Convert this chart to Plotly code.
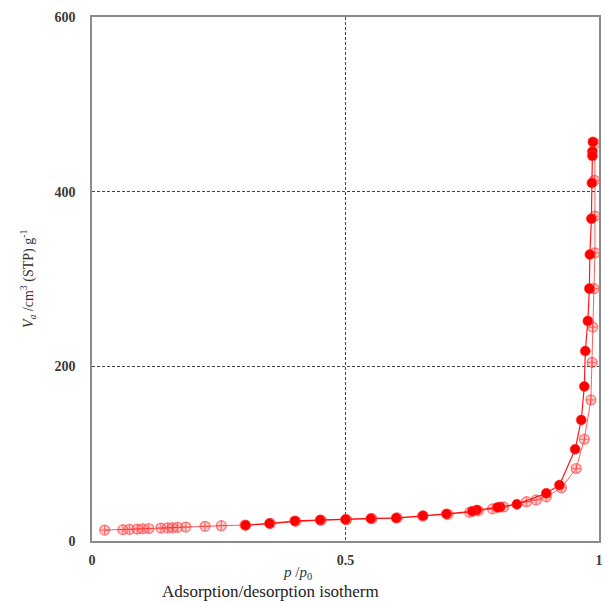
import plotly.graph_objects as go

# Adsorption branch (relative pressure p/p0, adsorbed volume cm3(STP)/g)
ads_p = [0.025, 0.061, 0.074, 0.089, 0.100, 0.112, 0.136, 0.149, 0.159, 0.169,
         0.185, 0.223, 0.255, 0.302, 0.352, 0.402, 0.452, 0.502, 0.552, 0.602,
         0.652, 0.702, 0.745, 0.762, 0.790, 0.812, 0.857, 0.876, 0.896, 0.926,
         0.955, 0.971, 0.984, 0.9865, 0.9877, 0.990, 0.992, 0.992, 0.991, 0.992]
ads_v = [12.5, 13.0, 13.3, 13.6, 14.0, 14.3, 14.8, 15.0, 15.3, 15.6,
         16.0, 16.8, 17.5, 18.3, 20.2, 22.5, 23.8, 24.6, 25.6, 26.6,
         28.6, 30.6, 32.8, 34.6, 36.8, 39.0, 45.0, 47.0, 50.5, 61.0,
         83.0, 116.5, 161.5, 204.5, 245.0, 289.0, 330.0, 372.0, 413.0, 455.0]

# Desorption branch
des_p = [0.988, 0.987, 0.987, 0.986, 0.985, 0.982, 0.981, 0.978, 0.973, 0.971,
         0.965, 0.953, 0.922, 0.896, 0.838, 0.805, 0.800, 0.759, 0.750, 0.699,
         0.653, 0.600, 0.550, 0.500, 0.450, 0.400, 0.350, 0.303]
des_v = [457.0, 446.0, 441.0, 410.0, 369.0, 328.0, 289.0, 252.0, 217.5, 177.0,
         138.6, 105.0, 64.0, 54.6, 42.0, 39.0, 38.5, 35.5, 34.0, 31.0,
         29.0, 26.3, 25.8, 24.6, 24.0, 23.0, 20.0, 18.0]

x_ticks = [0, 0.5, 1]
x_tick_text = ["0", "0.5", "1"]
y_ticks = [0, 200, 400, 600]
y_tick_text = ["0", "200", "400", "600"]

serif = "Liberation Serif, Times New Roman, serif"

fig = go.Figure()

fig.add_trace(go.Scatter(
    x=ads_p, y=ads_v, mode="lines+markers", name="adsorption",
    line=dict(color="rgba(255,40,40,0.75)", width=1),
    marker=dict(symbol="circle-cross", size=10,
                color="rgba(255,120,120,0.35)",
                line=dict(color="rgba(255,40,40,0.6)", width=1.2)),
))

fig.add_trace(go.Scatter(
    x=des_p, y=des_v, mode="lines+markers", name="desorption",
    line=dict(color="rgba(255,0,0,0.9)", width=1.2),
    marker=dict(symbol="circle", size=10, color="rgb(255,0,0)",
                line=dict(color="rgba(255,60,60,0.6)", width=1)),
))

axis_common = dict(
    showline=True, linecolor="#8a8a8a", mirror=True,
    showgrid=True, gridcolor="#444444", gridwidth=1, griddash="3px,2px",
    zeroline=False, ticks="",
    tickfont=dict(family=serif, size=14, color="#3a3a3a", weight="bold"),
)

fig.update_xaxes(range=[0, 1], tickvals=x_ticks, ticktext=x_tick_text,
                 linewidth=1.5, ticklabelstandoff=5, **axis_common)
fig.update_yaxes(range=[0, 600], tickvals=y_ticks, ticktext=y_tick_text,
                 linewidth=1.5, ticklabelstandoff=12, **axis_common)

fig.update_layout(
    width=606, height=603,
    margin=dict(l=92, r=3, t=17, b=62),
    paper_bgcolor="white", plot_bgcolor="white",
    showlegend=False,
    annotations=[
        dict(text="<i>V</i><sub><i>a</i></sub> /cm<sup>3</sup> (STP) g<sup>-1</sup>",
             xref="paper", yref="paper", x=-0.126, y=0.50,
             xanchor="center", yanchor="middle",
             textangle=-90, showarrow=False,
             font=dict(family=serif, size=14, color="#333333")),
        dict(text="<i>p</i> /<i>p</i><sub>0</sub>",
             xref="paper", yref="paper", x=0.405, y=-0.062,
             xanchor="center", yanchor="middle",
             showarrow=False,
             font=dict(family=serif, size=15, color="#333333")),
        dict(text="Adsorption/desorption isotherm",
             xref="paper", yref="paper", x=0.352, y=-0.097,
             xanchor="center", yanchor="middle",
             showarrow=False,
             font=dict(family=serif, size=17, color="#222222")),
    ],
)

fig.write_html("out.html")
